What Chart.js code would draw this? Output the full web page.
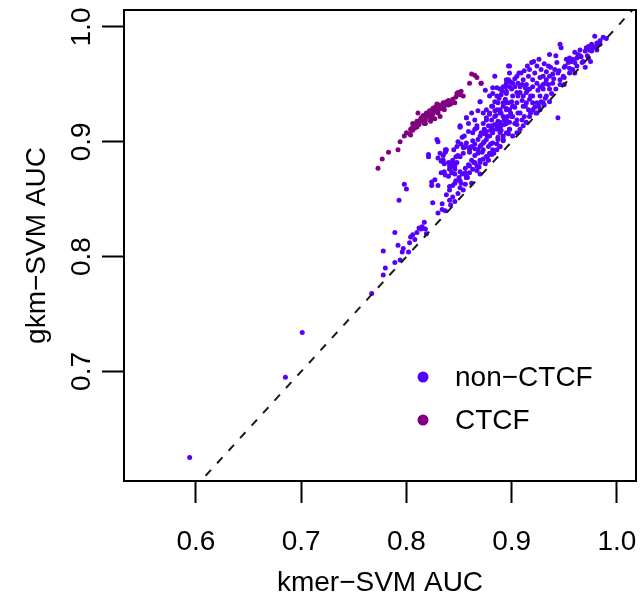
<!DOCTYPE html>
<html><head><meta charset="utf-8">
<script src="https://cdn.jsdelivr.net/npm/chart.js@4.4.0/dist/chart.umd.min.js"></script>
<style>html,body{margin:0;padding:0;background:#fff;}canvas{display:block;}</style>
</head><body>
<canvas id="c" width="640" height="602"></canvas>
<script>
// ---- axis ticks ----
const xTickValues = [0.6, 0.7, 0.8, 0.9, 1.0];
const xTickLabels = ["0.6", "0.7", "0.8", "0.9", "1.0"];
const yTickValues = [0.7, 0.8, 0.9, 1.0];
const yTickLabels = ["0.7", "0.8", "0.9", "1.0"];
const xRange = [0.5316, 1.0182];
const yRange = [0.6046, 1.0148];
const xTitle = "kmer\u2212SVM AUC";
const yTitle = "gkm\u2212SVM AUC";
const seriesNames = ["non\u2212CTCF", "CTCF"];
const diagonal = [0.5, 1.05];

// ---- non-CTCF: [kmer-SVM AUC, gkm-SVM AUC] ----
const nonCtcfAuc = [
[0.594,0.625],[0.685,0.695],[0.701,0.734],
[0.767,0.768],[0.778,0.805],[0.778,0.784],[0.780,0.790],[0.789,0.795],[0.789,0.821],[0.792,0.810],[0.794,0.797],
[0.796,0.804],[0.797,0.807],[0.802,0.804],[0.803,0.812],[0.804,0.817],[0.806,0.819],[0.808,0.815],[0.810,0.821],
[0.812,0.825],[0.814,0.824],[0.815,0.826],[0.817,0.830],[0.818,0.824],[0.819,0.820],[0.830,0.838],[0.834,0.841],
[0.793,0.849],[0.800,0.859],[0.824,0.862],[0.830,0.862],[0.825,0.847],[0.821,0.887],[0.830,0.900],[0.832,0.890],
[0.834,0.884],[0.837,0.891],[0.836,0.881],[0.842,0.878],[0.837,0.871],[0.846,0.872],[0.844,0.881],[0.847,0.887],
[0.851,0.913],[0.853,0.904],[0.856,0.896],[0.856,0.863],[0.858,0.869],[0.860,0.891],[0.862,0.864],[0.864,0.882],
[0.865,0.894],[0.867,0.875],[0.869,0.878],[0.870,0.872],[0.872,0.891],[0.874,0.907],[0.875,0.881],[0.877,0.887],
[0.878,0.884],[0.880,0.898],[0.882,0.908],[0.883,0.890],[0.885,0.923],[0.887,0.904],[0.888,0.913],[0.890,0.925],
[0.892,0.901],[0.893,0.919],[0.895,0.928],[0.897,0.907],[0.898,0.911],[0.900,0.922],[0.901,0.931],[0.903,0.916],
[0.906,0.925],[0.910,0.919],[0.913,0.931],[0.916,0.928],[0.920,0.934],[0.923,0.925],[0.926,0.931],[0.931,0.932],
[0.936,0.935],[0.834,0.846],[0.837,0.840],[0.841,0.849],[0.842,0.845],[0.844,0.852],[0.846,0.848],[0.849,0.855],
[0.851,0.860],[0.852,0.864],[0.854,0.858],[0.857,0.869],
[0.884,0.957],[0.895,0.954],[0.897,0.966],[0.886,0.947],[0.882,0.942],[0.895,0.942],[0.892,0.934],[0.897,0.934],
[0.881,0.931],[0.884,0.927],[0.889,0.928],[0.895,0.929],[0.870,0.935],[0.871,0.951],[0.876,0.919],[0.879,0.924],
[0.865,0.919],[0.867,0.912],[0.857,0.921],[0.851,0.913],[0.859,0.909],[0.863,0.908],[0.870,0.905],[0.876,0.909],
[0.881,0.914],[0.886,0.911],[0.890,0.914],[0.895,0.916],[0.892,0.905],[0.887,0.902],[0.882,0.899],[0.878,0.896],
[0.873,0.893],[0.868,0.890],[0.876,0.887],[0.881,0.889],[0.886,0.893],[0.889,0.896],[0.829,0.902],[0.821,0.889],
[0.830,0.886],[0.835,0.884],[0.840,0.882],[0.844,0.884],[0.837,0.893],[0.848,0.896],[0.854,0.895],[0.857,0.899],
[0.860,0.895],[0.865,0.898],[0.851,0.887],[0.846,0.879],[0.841,0.876],[0.851,0.874],[0.856,0.873],[0.860,0.879],
[0.865,0.882],[0.870,0.884],[0.857,0.869],[0.851,0.866],[0.846,0.864],[0.841,0.861],[0.833,0.873],[0.827,0.867],
[0.824,0.865],[0.798,0.863],
[0.979,0.992],[0.987,0.991],[0.990,0.990],[0.984,0.988],[0.981,0.986],[0.976,0.985],[0.973,0.983],[0.971,0.982],
[0.977,0.982],[0.974,0.980],[0.970,0.979],[0.965,0.980],[0.963,0.976],[0.966,0.974],[0.962,0.973],[0.958,0.972],
[0.960,0.969],[0.957,0.970],[0.954,0.969],[0.952,0.972],[0.951,0.966],[0.955,0.964],[0.947,0.982],[0.946,0.985],
[0.943,0.969],[0.941,0.963],[0.944,0.960],[0.939,0.959],[0.936,0.976],[0.935,0.966],[0.933,0.961],[0.930,0.957],
[0.932,0.951],[0.927,0.956],[0.928,0.963],[0.924,0.966],[0.922,0.960],[0.920,0.954],[0.919,0.969],[0.917,0.963],
[0.916,0.957],[0.914,0.950],[0.913,0.947],[0.911,0.954],[0.909,0.960],[0.908,0.943],[0.906,0.951],[0.905,0.957],
[0.903,0.948],[0.901,0.940],[0.900,0.946],[0.898,0.966],[0.898,0.960],[0.897,0.954],[0.895,0.944],[0.894,0.937],
[0.892,0.931],[0.890,0.941],[0.889,0.925],[0.887,0.934],[0.886,0.928],[0.884,0.922],[0.882,0.931],[0.882,0.947],
[0.881,0.919],[0.879,0.925],[0.878,0.914],[0.876,0.921],[0.874,0.911],[0.873,0.916],[0.871,0.908],[0.870,0.935],
[0.868,0.902],[0.867,0.914],[0.865,0.911],[0.863,0.901],[0.862,0.896],[0.860,0.893],[0.859,0.916],[0.857,0.921],
[0.855,0.895],[0.854,0.890],[0.852,0.898],[0.851,0.914],[0.849,0.888],[0.848,0.882],[0.846,0.876],[0.844,0.883],
[0.843,0.873],[0.841,0.879],[0.840,0.870],[0.838,0.893],[0.836,0.874],[0.835,0.888],[0.833,0.883],
[0.886,0.940],[0.889,0.946],[0.892,0.948],[0.895,0.951],[0.898,0.948],[0.901,0.951],[0.905,0.943],[0.908,0.948],
[0.911,0.940],[0.914,0.943],[0.917,0.946],[0.920,0.948],[0.924,0.951],[0.927,0.948],[0.930,0.946],[0.933,0.954],
[0.936,0.957],[0.939,0.951],[0.895,0.934],[0.898,0.928],[0.901,0.931],[0.905,0.934],[0.908,0.925],[0.911,0.931],
[0.914,0.934],[0.917,0.937],[0.889,0.917],[0.892,0.922],[0.895,0.919],[0.898,0.917],[0.901,0.922],[0.905,0.919],
[0.882,0.911],[0.886,0.914],[0.889,0.908],[0.879,0.905],[0.876,0.902],[0.873,0.899],[0.870,0.896],[0.879,0.940],
[0.876,0.928],[0.873,0.925],[0.927,0.940],[0.924,0.934],[0.920,0.928],[0.917,0.922],[0.914,0.917],[0.911,0.914],
[0.908,0.911],[0.905,0.908],[0.901,0.905],[0.898,0.911],[0.895,0.908],[0.892,0.902],[0.889,0.896],[0.886,0.898],
[0.882,0.893],[0.879,0.890],[0.876,0.887],[0.873,0.885],[0.870,0.882],[0.867,0.879],[0.863,0.876],[0.860,0.873],
[0.857,0.870],[0.944,0.921],[0.968,0.970],[0.973,0.973],[0.981,0.980],[0.946,0.954],[0.949,0.957],[0.936,0.946],
[0.933,0.940],[0.930,0.934],[0.927,0.928],[0.924,0.925],
[0.905,0.915],[0.912,0.922],[0.918,0.925],[0.922,0.930],[0.928,0.935],[0.932,0.938],[0.938,0.942],[0.942,0.946],
[0.946,0.950],[0.950,0.956],[0.955,0.960],[0.958,0.963],[0.962,0.966],[0.967,0.969],[0.972,0.975],[0.976,0.979],
[0.980,0.983],[0.984,0.985],[0.940,0.955],[0.945,0.962],[0.950,0.965],[0.955,0.973],[0.960,0.978],[0.935,0.950],
[0.925,0.945],[0.918,0.940],[0.910,0.936],[0.906,0.940],[0.903,0.930],[0.899,0.925],[0.896,0.922],[0.893,0.915],
[0.890,0.910],[0.887,0.918],[0.884,0.915],[0.880,0.910],[0.877,0.905],[0.874,0.900],[0.871,0.897],[0.868,0.893],
[0.865,0.888],[0.862,0.884],[0.859,0.880],[0.856,0.877],[0.853,0.872],[0.850,0.869],[0.847,0.866],[0.844,0.862],
[0.841,0.858],[0.838,0.854],[0.884,0.935],[0.888,0.938],[0.891,0.944],[0.894,0.948],[0.899,0.952],[0.903,0.955],
[0.907,0.960],[0.912,0.962],[0.915,0.966],[0.921,0.970],[0.926,0.972],[0.931,0.968],[0.937,0.965],[0.942,0.975],
[0.875,0.945],[0.868,0.927],[0.862,0.925],[0.855,0.905],[0.849,0.900],[0.845,0.893],[0.920,0.940],[0.915,0.945],
[0.930,0.950],[0.910,0.950],[0.900,0.935],[0.950,0.950],[0.960,0.960],[0.970,0.965],[0.965,0.975],[0.975,0.970]
];

// ---- CTCF: [kmer-SVM AUC, gkm-SVM AUC] ----
const ctcfAuc = [
[0.773,0.877],[0.777,0.885],[0.783,0.891],[0.792,0.893],[0.794,0.900],[0.798,0.905],[0.800,0.908],[0.803,0.907],
[0.804,0.911],[0.806,0.913],[0.806,0.916],[0.808,0.912],[0.810,0.918],[0.811,0.925],[0.812,0.915],[0.814,0.921],
[0.816,0.923],[0.817,0.916],[0.818,0.919],[0.821,0.924],[0.822,0.927],[0.823,0.919],[0.824,0.922],[0.826,0.926],
[0.828,0.928],[0.829,0.931],[0.831,0.932],[0.832,0.922],[0.833,0.929],[0.835,0.934],[0.836,0.931],[0.838,0.935],
[0.840,0.932],[0.841,0.935],[0.844,0.937],[0.846,0.934],[0.849,0.943],[0.851,0.941],[0.852,0.944],[0.854,0.940],
[0.860,0.951],[0.865,0.958],[0.867,0.956],[0.871,0.951],[0.862,0.959],
[0.813,0.919],[0.815,0.918],[0.820,0.922],[0.825,0.924],[0.827,0.920],[0.830,0.927],[0.832,0.929],[0.827,0.930],
[0.819,0.925],[0.834,0.932],[0.837,0.933],[0.842,0.933],[0.840,0.936],[0.806,0.910],[0.810,0.915],[0.804,0.906],
[0.818,0.916],[0.823,0.918],[0.830,0.925],[0.836,0.928],[0.810,0.913],[0.816,0.920],[0.847,0.939],[0.848,0.942],
[0.829,0.933],[0.825,0.929]
];

const FONT = "'Liberation Sans', Arial, Helvetica, sans-serif";
const COLORS = ["#5500ff", "#800080"];
const toPts = arr => arr.map(p => ({x: p[0], y: p[1]}));

const framePlugin = {
  id: 'frame',
  afterDatasetsDraw(chart) {
    const {ctx, chartArea: a} = chart;
    ctx.save();
    ctx.strokeStyle = '#000';
    ctx.lineWidth = 2;
    ctx.strokeRect(a.left, a.top, a.right - a.left, a.bottom - a.top);
    ctx.restore();
  }
};

const legendPlugin = {
  id: 'rlegend',
  afterDraw(chart) {
    const ctx = chart.ctx;
    ctx.save();
    ctx.font = "28px " + FONT;
    ctx.textBaseline = 'middle';
    ctx.textAlign = 'left';
    const rows = [377, 420];
    seriesNames.forEach((name, i) => {
      ctx.fillStyle = COLORS[i];
      ctx.beginPath();
      ctx.arc(423, rows[i], 5.5, 0, Math.PI * 2);
      ctx.fill();
      ctx.fillStyle = '#000';
      ctx.fillText(name, 455, rows[i] + 1);
    });
    ctx.restore();
  }
};

new Chart(document.getElementById('c'), {
  type: 'scatter',
  data: {
    datasets: [
      {label: 'y = x', type: 'line', data: toPts(diagonal.map(v => [v, v])),
       borderColor: '#1a1a1a', borderWidth: 2, borderDash: [8, 9], pointRadius: 0, fill: false, order: 0},
      {label: seriesNames[1], data: toPts(ctcfAuc), backgroundColor: COLORS[1], borderWidth: 0, pointRadius: 2.5, order: 1},
      {label: seriesNames[0], data: toPts(nonCtcfAuc), backgroundColor: COLORS[0], borderWidth: 0, pointRadius: 2.5, order: 2}
    ]
  },
  options: {
    responsive: false, animation: false, devicePixelRatio: 1, events: [],
    layout: {padding: {top: 10, right: 3.5, left: 0, bottom: 0}},
    plugins: {legend: {display: false}, tooltip: {enabled: false}},
    scales: {
      x: {
        type: 'linear', position: 'bottom', min: xRange[0], max: xRange[1], bounds: 'data',
        afterBuildTicks: s => { s.ticks = xTickValues.map(v => ({value: v})); },
        afterFit: s => { s.height = 121; s.paddingLeft = 0; s.paddingRight = 0; },
        grid: {drawOnChartArea: false, drawTicks: true, tickLength: 22, tickColor: '#000', tickWidth: 2},
        border: {display: false},
        ticks: {callback: (v, i) => xTickLabels[i], color: '#000', font: {family: FONT, size: 28},
                padding: 22, minRotation: 0, maxRotation: 0, autoSkip: false},
        title: {display: true, text: xTitle, color: '#000', font: {family: FONT, size: 28}, padding: {top: 0, bottom: 2}}
      },
      y: {
        type: 'linear', position: 'left', min: yRange[0], max: yRange[1], bounds: 'data',
        afterBuildTicks: s => { s.ticks = yTickValues.map(v => ({value: v})); },
        afterFit: s => { s.width = 124; s.paddingTop = 0; s.paddingBottom = 0; },
        grid: {drawOnChartArea: false, drawTicks: true, tickLength: 22, tickColor: '#000', tickWidth: 2},
        border: {display: false},
        ticks: {callback: (v, i) => yTickLabels[i], color: '#000', font: {family: FONT, size: 28},
                padding: 0, minRotation: 90, maxRotation: 90, crossAlign: 'center', autoSkip: false},
        title: {display: true, text: yTitle, color: '#000', font: {family: FONT, size: 28}, padding: {top: 20, bottom: 0}}
      }
    }
  },
  plugins: [framePlugin, legendPlugin]
});
</script>
</body></html>
